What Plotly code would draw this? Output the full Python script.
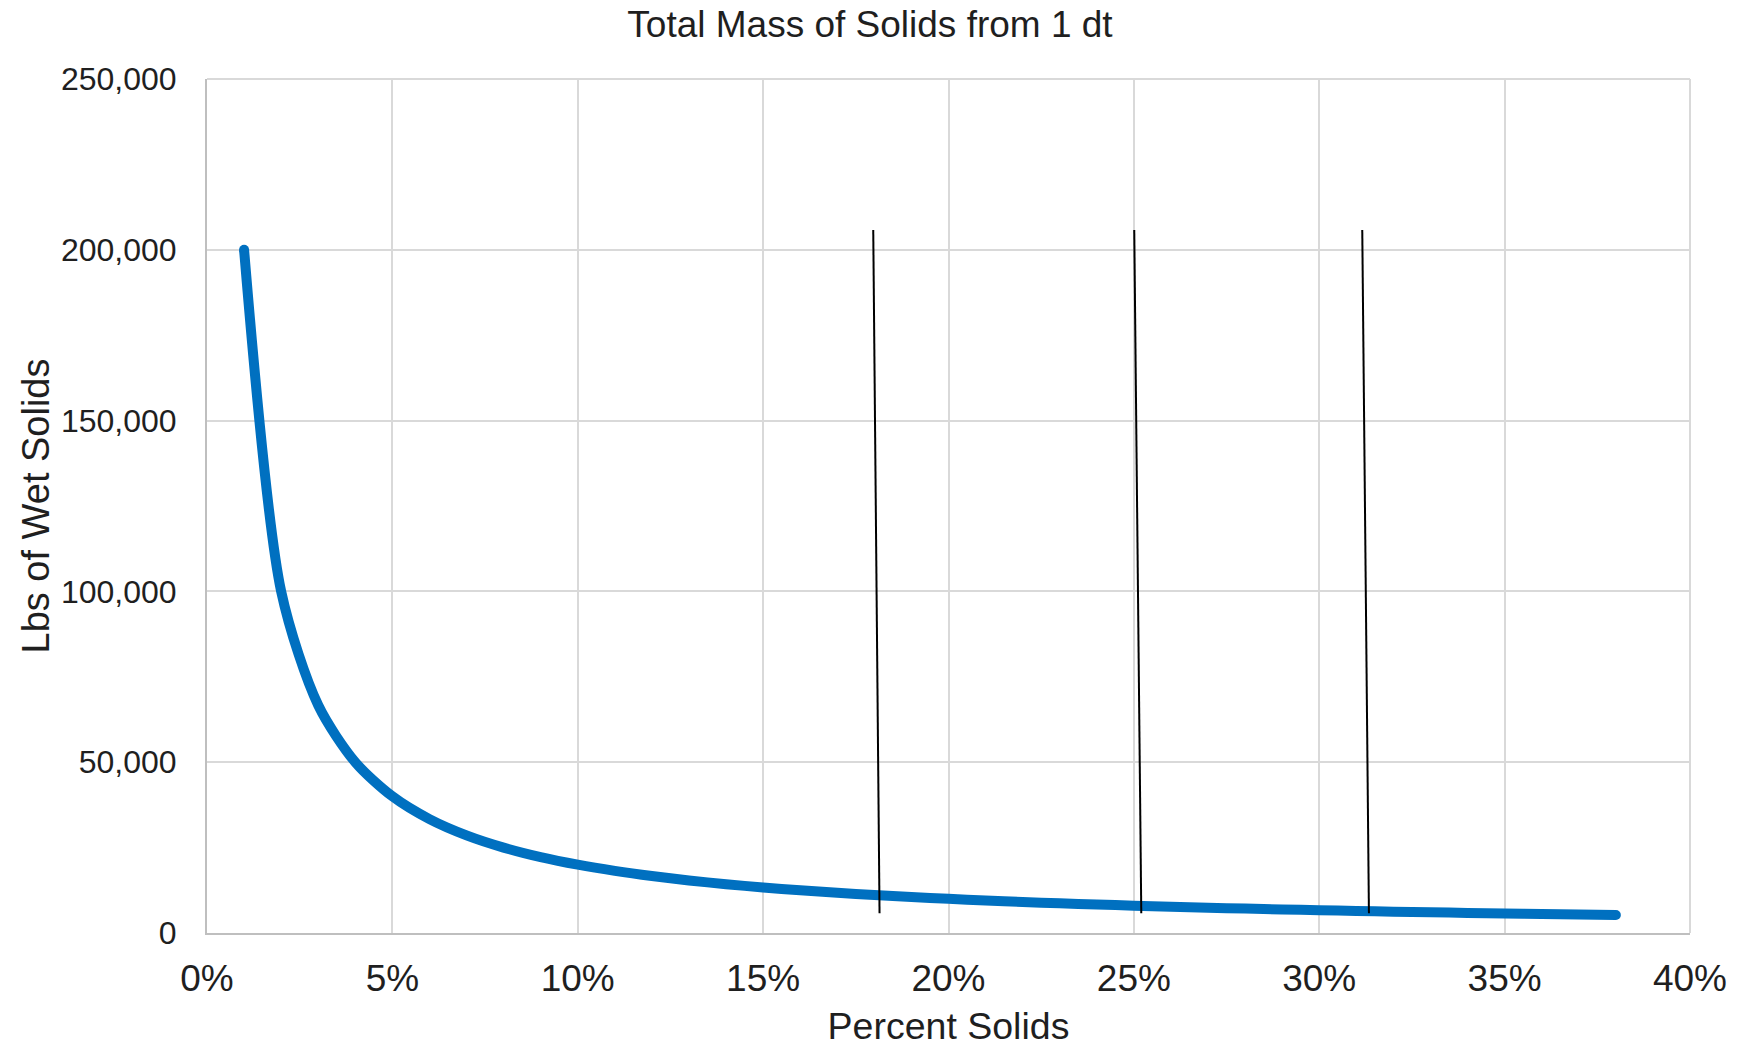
import plotly.graph_objects as go

# Percent solids (fraction) and lbs of wet solids
percent_solids = [0.01, 0.02, 0.03, 0.04, 0.05, 0.06, 0.07, 0.08, 0.09, 0.10,
                  0.11, 0.12, 0.13, 0.14, 0.15, 0.16, 0.17, 0.18, 0.19, 0.20,
                  0.21, 0.22, 0.23, 0.24, 0.25, 0.26, 0.27, 0.28, 0.29, 0.30,
                  0.31, 0.32, 0.33, 0.34, 0.35, 0.36, 0.37, 0.38]
wet_solids_lbs = [200000, 100000, 66667, 50000, 40000, 33333, 28571, 25000, 22222, 20000,
                  18182, 16667, 15385, 14286, 13333, 12500, 11765, 11111, 10526, 10000,
                  9524, 9091, 8696, 8333, 8000, 7692, 7407, 7143, 6897, 6667,
                  6452, 6250, 6061, 5882, 5714, 5556, 5405, 5263]

# Hand-drawn marker lines (top and bottom ends)
marker_x_top = [0.1797, 0.2501, 0.3116]
marker_x_bottom = [0.1814, 0.2520, 0.3134]
marker_y_top = [205800, 205800, 205800]
marker_y_bottom = [5770, 5770, 5770]

x_tick_vals = [0, 0.05, 0.10, 0.15, 0.20, 0.25, 0.30, 0.35, 0.40]
y_tick_vals = [0, 50000, 100000, 150000, 200000, 250000]

FONT = "Liberation Sans, Arial, sans-serif"
TXT = "#1F1F1F"

fig = go.Figure()

n = len(percent_solids)
cap_sizes = [10] + [0] * (n - 2) + [10]
fig.add_trace(go.Scatter(
    x=percent_solids, y=wet_solids_lbs, mode="lines+markers",
    line=dict(color="#0070C0", width=10, shape="spline", smoothing=0.8),
    marker=dict(size=cap_sizes, color="#0070C0", line=dict(width=0), opacity=1),
    showlegend=False, hoverinfo="skip",
))

for xt, xb, yt, yb in zip(marker_x_top, marker_x_bottom, marker_y_top, marker_y_bottom):
    fig.add_trace(go.Scatter(
        x=[xt, xb], y=[yt, yb], mode="lines",
        line=dict(color="black", width=2),
        showlegend=False, hoverinfo="skip",
    ))

fig.update_layout(
    width=1740, height=1047,
    margin=dict(l=207, r=50, t=79, b=114),
    paper_bgcolor="white", plot_bgcolor="white",
    font=dict(family=FONT, color=TXT),
    title=dict(text="Total Mass of Solids from 1 dt", x=0.5, xanchor="center",
               y=1 - 24 / 1047, yanchor="middle",
               font=dict(size=37, family=FONT, color=TXT)),
    shapes=[
        dict(type="line", xref="paper", yref="paper", x0=0, x1=1, y0=1, y1=1,
             line=dict(color="#D9D9D9", width=2), layer="below"),
        dict(type="line", xref="paper", yref="paper", x0=1, x1=1, y0=0, y1=1,
             line=dict(color="#D9D9D9", width=2), layer="below"),
    ],
)

fig.update_xaxes(
    range=[0, 0.40], tickvals=x_tick_vals, tickformat=".0%",
    showgrid=True, gridcolor="#D9D9D9", gridwidth=2,
    showline=True, linecolor="#BFBFBF", linewidth=2,
    zeroline=False, ticks="", ticklabelstandoff=12, automargin=False,
    tickfont=dict(size=37, family=FONT, color=TXT),
    title=dict(text="Percent Solids", font=dict(size=37.5, family=FONT, color=TXT), standoff=17),
)
fig.update_yaxes(
    range=[0, 250000], tickvals=y_tick_vals, tickformat=",",
    showgrid=True, gridcolor="#D9D9D9", gridwidth=2,
    showline=True, linecolor="#BFBFBF", linewidth=2,
    zeroline=False, ticks="", ticklabelstandoff=22, automargin=False,
    tickfont=dict(size=32, family=FONT, color=TXT),
    title=dict(text="Lbs of Wet Solids", font=dict(size=38, family=FONT, color=TXT), standoff=0),
)

fig.write_html("out.html")
